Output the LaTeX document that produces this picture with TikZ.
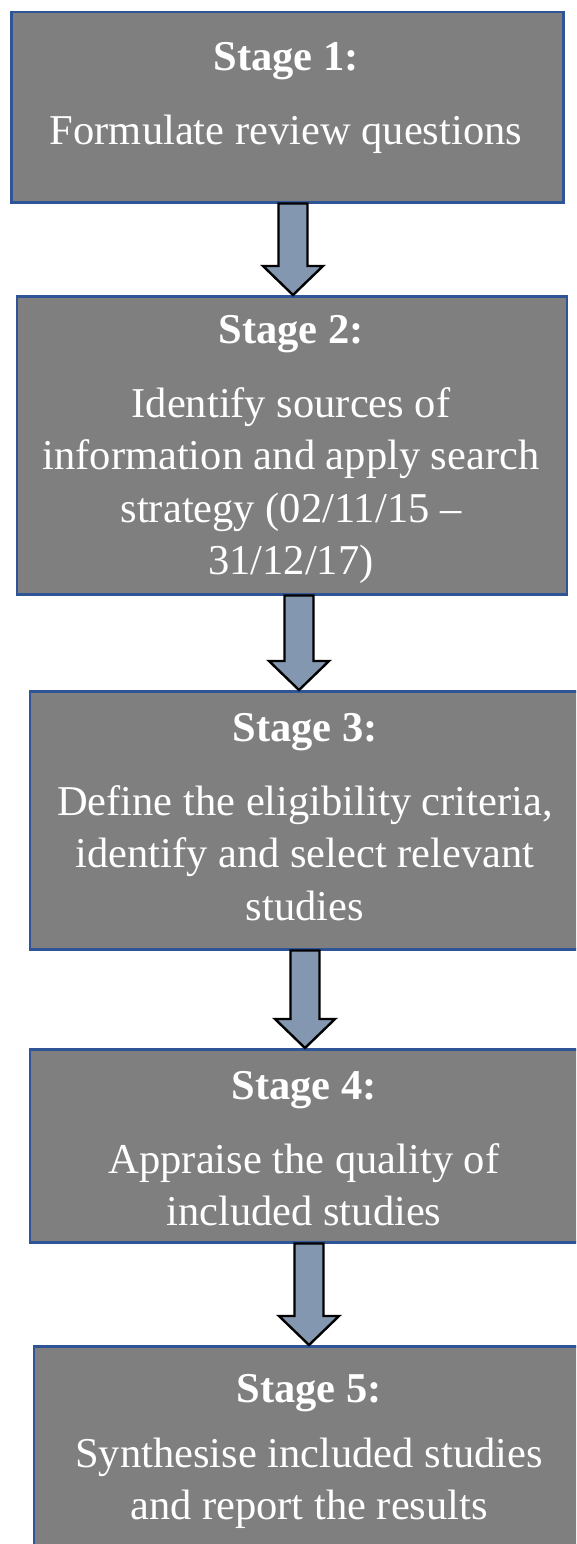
\documentclass[tikz,border=0pt]{standalone}
\usepackage{fontspec}
\setmainfont{Liberation Serif}
\usetikzlibrary{calc}

\definecolor{stagefill}{HTML}{7F7F7F}
\definecolor{stageline}{HTML}{2F5597}
\definecolor{arrowfill}{HTML}{8497B0}

\tikzset{
  stagebox/.style={draw=stageline, fill=stagefill, line width=2.5pt,
    anchor=north west, inner sep=0pt},
  stagetext/.style={text=white, align=center, anchor=north, inner sep=0pt,
    font=\fontsize{42.5}{52.5}\selectfont},
  stagearrow/.style={draw=black, fill=arrowfill, line width=2.4pt, line join=miter}
}

% block arrow from the bottom of #1 to the top of #2, at x = #3
\newcommand\stagestep[3]{%
  \draw[stagearrow] let \p1=(#1.south), \p2=(#2.north) in
    (#3pt-14.5pt,\y1) -- (#3pt+14.5pt,\y1) -- (#3pt+14.5pt,\y2+29pt)
    -- (#3pt+30pt,\y2+29pt) -- (#3pt,\y2) -- (#3pt-30pt,\y2+29pt)
    -- (#3pt-14.5pt,\y2+29pt) -- cycle;}

\begin{document}
\begin{tikzpicture}[x=1pt,y=-1pt]
  \useasboundingbox (0,0) rectangle (576,1544);
  \clip (0,0) rectangle (576,1544);

  % boxes
  \node[stagebox, minimum width=552pt, minimum height=190pt] (s1) at (10,11) {};
  \node[stagebox, minimum width=550pt, minimum height=298pt] (s2) at (15.5,295) {};
  \node[stagebox, minimum width=570pt, minimum height=258pt] (s3) at (28.5,690) {};
  \node[stagebox, minimum width=570pt, minimum height=193pt] (s4) at (28.5,1048) {};
  \node[stagebox, minimum width=570pt, minimum height=260pt] (s5) at (32.5,1345) {};

  % texts
  \node[stagetext] (t1) at (286,42) {\textbf{Stage 1:}\\[21.5pt]
    Formulate review questions};
  \node[stagetext] (t2) at (291,315) {\textbf{Stage 2:}\\[21.5pt]
    Identify sources of\\information and apply search\\strategy (02/11/15 --\\31/12/17)};
  \node[stagetext] (t3) at (305,713) {\textbf{Stage 3:}\\[21.5pt]
    Define the eligibility criteria,\\identify and select relevant\\studies};
  \node[stagetext] (t4) at (304,1071) {\textbf{Stage 4:}\\[21.5pt]
    Appraise the quality of\\included studies};
  \node[stagetext] (t5) at (309,1374) {\textbf{Stage 5:}\\[12.5pt]
    Synthesise included studies\\and report the results};

  % arrows
  \stagestep{s1}{s2}{293}
  \stagestep{s2}{s3}{299}
  \stagestep{s3}{s4}{305}
  \stagestep{s4}{s5}{309}
\end{tikzpicture}
\end{document}
